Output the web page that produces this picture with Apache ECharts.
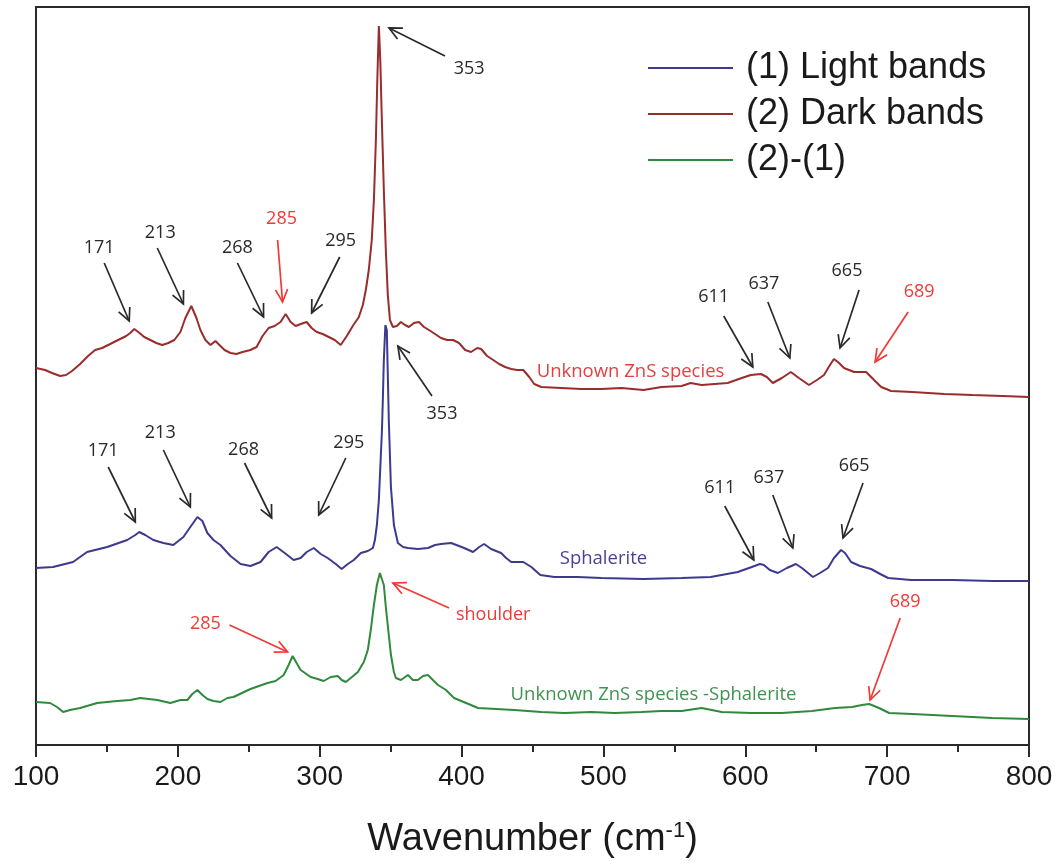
<!DOCTYPE html>
<html>
<head>
<meta charset="utf-8">
<script src="https://cdn.jsdelivr.net/npm/echarts@6/dist/echarts.min.js"></script>
<style>
html,body{margin:0;padding:0;background:#fff;}
#chart{width:1061px;height:866px;}
</style>
</head>
<body>
<div id="chart"></div>
<script>
// ---- Data: [wavenumber (cm-1), intensity (a.u., offset-stacked)] ----
const darkBands = [[100,377],[106.4,375],[111.3,372],[117,369],[121.2,370],[125.4,374],[131.1,381],[136.7,389],[141.7,395],[146.6,397],[152.3,401],[157.9,405],[163.6,409],[166.4,412],[169.3,416],[172.1,413],[176.3,408],[180.6,405],[184.8,402],[189,400],[193.3,402],[197.5,405],[201.8,413],[205.3,427],[209.5,439],[213.1,427],[215.9,415],[219.4,405],[223,400],[226.5,404],[229.3,400],[232.9,395],[237.1,392],[241.3,391],[245.6,393],[251.2,395],[255.5,398],[259.7,409],[264,417],[268.2,419],[272.4,423],[276,431],[279.5,423],[283,419],[286.6,421],[290.8,423],[294.3,417],[297.9,413],[302.1,411],[306.4,408],[310.6,405],[314.8,400],[319.1,409],[323.3,419],[327.6,428],[330.4,440],[332.5,455],[334.6,475],[336.7,505],[338.2,545],[339.6,605],[340.6,665],[341.7,719],[342.7,685],[343.8,625],[345.2,555],[346.6,495],[348,450],[349.5,425],[351.6,418],[354.4,419],[357.2,423],[360.1,420],[362.9,418],[366.4,422],[370,423],[373.5,418],[377,415],[381.3,411],[385.5,407],[389.8,405],[394,405],[398.2,402],[402.5,395],[406.7,393],[411,397],[413.8,396],[418,389],[422.3,385],[426.5,381],[430.7,378],[435,376],[439.2,375],[443.5,375],[447.7,368],[451.2,361],[456.2,358],[470.3,357],[484.4,356],[498.6,356],[512.7,357],[528.3,355],[541,358],[555.1,359],[561.5,362],[569.2,360],[587.6,362],[597.5,367],[603.9,370],[611,371],[615.2,368],[619.4,362],[625.8,367],[632.1,373],[637.8,367],[644.9,360],[650.5,365],[655.5,370],[659.7,380],[662.5,386],[666.1,382],[669.6,377],[676.7,373],[685.2,373],[690.8,365],[695.8,358],[702.8,354],[717.7,353],[740.3,351],[760.1,350],[781.3,349],[800,348]];

const lightBands = [[100,177],[112,178],[126.1,183],[136,193],[150.2,198],[164.3,205],[170,210],[172.8,213],[177,210],[182.7,205],[189.8,202],[196.8,200],[203.9,208],[208.8,218],[213.8,228],[217.3,224],[220.8,212],[225.1,205],[230,200],[237.1,189],[244.2,181],[251.2,179],[258.3,183],[264,193],[269.6,198],[275.3,192],[281.6,185],[286.6,187],[290.8,193],[295.8,197],[300.7,191],[305.6,187],[311.3,181],[315.5,176],[319.8,181],[324,185],[329,192],[333.9,194],[337.5,197],[338.9,205],[340.3,220],[341.7,245],[343.1,290],[343.8,312],[344.5,345],[345.2,385],[346.3,420],[347.3,415],[348.7,325],[350.2,258],[352.3,220],[355.1,202],[358.7,198],[362.2,197],[369.2,196],[376.3,197],[381.3,200],[385.5,201],[392.6,202],[398.2,199],[401.8,197],[408.1,193],[412.4,198],[415.9,201],[420.8,196],[427.9,192],[431.4,187],[435,183],[443.5,183],[449.2,178],[455.5,170],[465.4,168],[481.6,168],[498.6,167],[528.3,166],[555.1,167],[575.6,168],[594.7,173],[604.6,178],[610.3,181],[613.1,180],[617.3,175],[623,172],[629.3,177],[635.7,181],[639.9,177],[647.7,168],[652.7,172],[658.3,177],[662.5,187],[667.5,195],[670.3,192],[674.6,183],[680.9,179],[688.7,176],[695.1,171],[700.7,167],[717,165],[746,165],[774.2,164],[800,164]];

const difference = [[100,43],[109.9,42],[114.8,38],[119.1,33],[124,35],[131.1,37],[143.1,42],[157.2,44],[166.4,45],[173.5,47],[185.5,45],[194.7,42],[201.8,45],[206.7,45],[210.2,51],[213.8,55],[217.3,50],[220.8,46],[225.1,44],[230,43],[234.9,47],[239.2,48],[251.2,56],[263.2,62],[268.9,64],[274.6,70],[278.1,80],[280.9,89],[283.7,82],[286.6,75],[293.6,68],[298.6,66],[302.8,64],[307.8,68],[312.7,69],[315.5,65],[318.4,63],[321.9,67],[326.9,73],[331.1,83],[333.9,95],[336,115],[338.2,140],[340.3,160],[342.4,172],[343.8,172],[345.2,160],[346.6,138],[348.7,110],[350.2,90],[352.3,73],[353.7,67],[357.2,65],[362.2,70],[365.7,65],[369.2,65],[372.8,69],[376.3,70],[379.8,65],[383.4,60],[389,55],[394.7,47],[403.2,42],[411.6,37],[424.4,36],[437.1,35],[456.2,33],[472.4,32],[491.5,33],[507.8,32],[526.9,33],[541,34],[555.1,34],[569.2,37],[583.4,33],[604.6,32],[625.8,32],[647,34],[663.2,37],[675.3,38],[682.3,40],[687.3,41],[694.3,37],[701.4,32],[717.7,31],[746,29],[774.2,27],[800,26]];

const seriesNames = ['(1) Light bands', '(2) Dark bands', '(2)-(1)'];
const xTicks = [100, 200, 300, 400, 500, 600, 700, 800];

// Peak annotations: label, text anchor, arrow start, arrow tip (data coords)
const peakNotes = [
  {label:'171', red:false, text:[144.5,497], from:[148.1,482], to:[165.7,424]},
  {label:'213', red:false, text:[187.6,512], from:[185.5,497], to:[203.9,441]},
  {label:'268', red:false, text:[242.0,497], from:[242.0,482], to:[260.4,428]},
  {label:'285', red:true,  text:[273.1,526], from:[270.3,505], to:[273.8,443]},
  {label:'295', red:false, text:[314.8,504], from:[314.1,488], to:[294.3,432]},
  {label:'353', red:false, text:[405.3,676], from:[388.3,689], to:[348.8,717]},
  {label:'353', red:false, text:[386.2,331], from:[379.1,349], to:[355.1,399]},
  {label:'171', red:false, text:[147.3,294], from:[150.9,278], to:[170.0,223]},
  {label:'213', red:false, text:[187.6,312], from:[189.8,295], to:[208.8,238]},
  {label:'268', red:false, text:[246.3,295], from:[247.0,282], to:[266.1,227]},
  {label:'295', red:false, text:[320.5,302], from:[318.4,287], to:[299.3,230]},
  {label:'611', red:false, text:[577.7,448], from:[584.8,429], to:[605.3,378]},
  {label:'637', red:false, text:[613.1,461], from:[615.9,443], to:[631.4,387]},
  {label:'665', red:false, text:[671.7,474], from:[680.2,455], to:[666.8,397]},
  {label:'689', red:true,  text:[722.6,453], from:[714.8,433], to:[691.5,383]},
  {label:'611', red:false, text:[582.0,257], from:[585.5,239], to:[606.0,185]},
  {label:'637', red:false, text:[616.6,267], from:[619.4,250], to:[633.5,197]},
  {label:'665', red:false, text:[676.7,279], from:[683.0,262], to:[668.9,207]},
  {label:'285', red:true,  text:[219.4,121], from:[236.4,120], to:[277.4,93]},
  {label:'shoulder', red:true, text:[422.3,130], from:[391.2,137], to:[351.6,162]},
  {label:'689', red:true,  text:[712.7,143], from:[709.2,127], to:[688.0,45]}
];

const curveLabels = [
  {label:'Unknown ZnS species', color:'#e2413f', pos:[519.1,373]},
  {label:'Sphalerite', color:'#4b3f98', pos:[500.0,186]},
  {label:'Unknown ZnS species -Sphalerite', color:'#3f9450', pos:[535.3,50]}
];

const COLORS = {light:'#3d3a8e', dark:'#9a2c2c', diff:'#2f8a3d', black:'#2a2a2a', red:'#ef3a36'};

const chart = echarts.init(document.getElementById('chart'), null, {renderer:'canvas'});
const option = {
  animation:false,
  backgroundColor:'#fff',
  grid:{left:36, right:32, top:7, bottom:121, show:true, borderColor:'#2a2a2a', borderWidth:2, backgroundColor:'transparent'},
  legend:{
    orient:'vertical', left:643, top:43, itemGap:6,
    itemWidth:85, itemHeight:2, icon:'rect',
    data:seriesNames,
    textStyle:{fontFamily:'Liberation Sans', fontSize:36, color:'#1a1a1a', lineHeight:40, padding:[0,0,0,8]}
  },
  xAxis:{
    type:'value', min:xTicks[0], max:xTicks[xTicks.length-1], interval:100,
    axisLine:{show:true, onZero:false, lineStyle:{color:'#2a2a2a', width:2}},
    axisTick:{show:true, inside:false, length:12, lineStyle:{color:'#2a2a2a', width:2}},
    minorTick:{show:true, splitNumber:2, length:7, lineStyle:{color:'#2a2a2a', width:2}},
    splitLine:{show:false},
    axisLabel:{fontFamily:'Liberation Sans', fontSize:28, color:'#1a1a1a', margin:18},
    name:'{a|Wavenumber (cm}{s|-1}{a|)}',
    nameLocation:'middle', nameGap:73,
    nameTextStyle:{rich:{
      a:{fontFamily:'Liberation Sans', fontSize:38, color:'#1a1a1a', lineHeight:44},
      s:{fontFamily:'Liberation Sans', fontSize:22, color:'#1a1a1a', lineHeight:44, padding:[0,0,19,0]}
    }}
  },
  yAxis:{type:'value', min:0, max:738, show:false, splitLine:{show:false}},
  series:[
    {name:seriesNames[0], type:'line', data:lightBands, showSymbol:false, symbol:'none', lineStyle:{color:COLORS.light, width:2}, itemStyle:{color:COLORS.light}, z:3},
    {name:seriesNames[1], type:'line', data:darkBands, showSymbol:false, symbol:'none', lineStyle:{color:COLORS.dark, width:2}, itemStyle:{color:COLORS.dark}, z:3},
    {name:seriesNames[2], type:'line', data:difference, showSymbol:false, symbol:'none', lineStyle:{color:COLORS.diff, width:2}, itemStyle:{color:COLORS.diff}, z:3}
  ]
};
chart.setOption(option);

function px(p){ return chart.convertToPixel({gridIndex:0}, p); }
const els = [];
peakNotes.forEach(n => {
  const c = n.red ? COLORS.red : COLORS.black;
  const t = px(n.text), s = px(n.from), e = px(n.to);
  els.push({type:'text', x:t[0], y:t[1], z:10, style:{text:n.label, fill:c, font:'18px "Open Sans"', textAlign:'center', textVerticalAlign:'middle', align:'center', verticalAlign:'middle'}});
  els.push({type:'line', z:10, shape:{x1:s[0], y1:s[1], x2:e[0], y2:e[1]}, style:{stroke:c, lineWidth:1.7}});
  const ang = Math.atan2(e[1]-s[1], e[0]-s[0]);
  const L = 14, sp = Math.PI/7;
  const p1 = [e[0]-L*Math.cos(ang-sp), e[1]-L*Math.sin(ang-sp)];
  const p2 = [e[0]-L*Math.cos(ang+sp), e[1]-L*Math.sin(ang+sp)];
  els.push({type:'polyline', z:10, shape:{points:[p1, e, p2]}, style:{stroke:c, lineWidth:1.7, fill:null}});
});
curveLabels.forEach(l => {
  const p = px(l.pos);
  els.push({type:'text', x:p[0], y:p[1], z:10, style:{text:l.label, fill:l.color, font:'18.5px "Open Sans"', textAlign:'center', textVerticalAlign:'middle', align:'center', verticalAlign:'middle'}});
});
chart.setOption({graphic:{elements:els}});
</script>
</body>
</html>
